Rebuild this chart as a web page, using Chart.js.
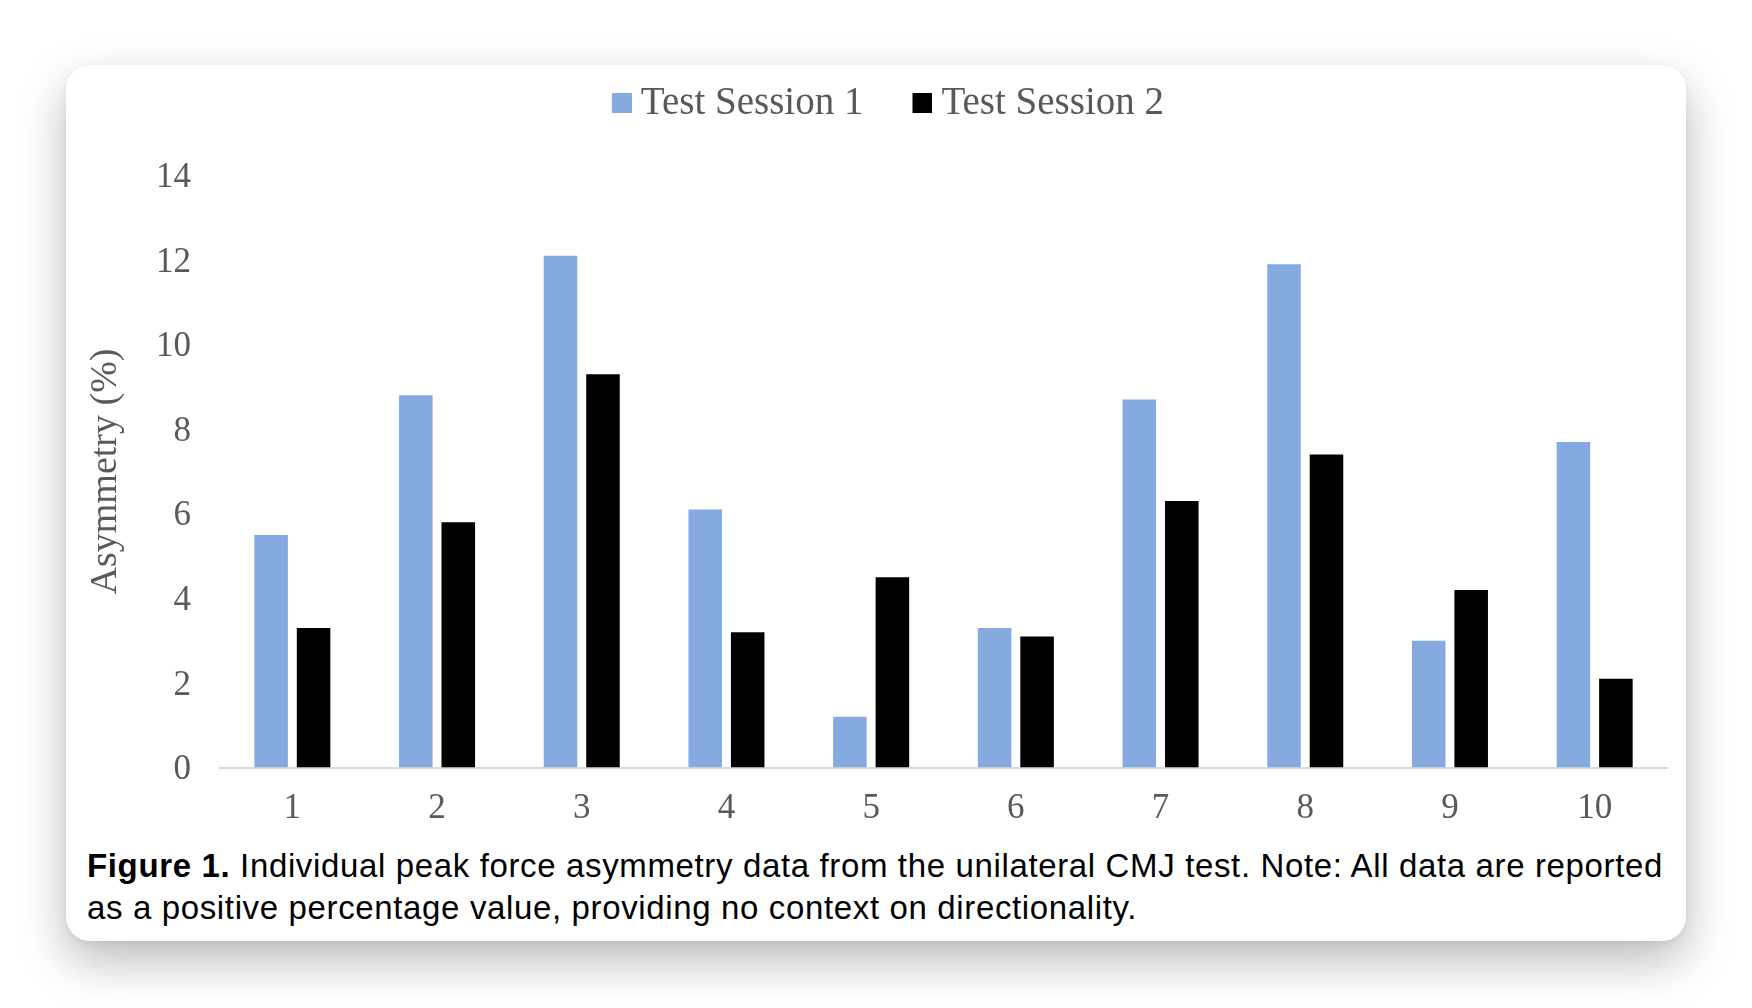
<!DOCTYPE html>
<html>
<head>
<meta charset="utf-8">
<script src="https://cdn.jsdelivr.net/npm/chart.js@4"></script>
<style>
  html, body { margin: 0; padding: 0; background: #ffffff; width: 1752px; height: 1008px; overflow: hidden; }
  #card {
    position: absolute; left: 66px; top: 65px; width: 1620px; height: 876px;
    background: #ffffff; border-radius: 24px;
    box-shadow: 0 20px 48px rgba(0,0,0,0.27), 0 2px 6px rgba(0,0,0,0.06);
  }
  #chart { position: absolute; left: 0; top: 0; }
  #cap {
    position: absolute; left: 21px; top: 780px;
    font-family: "Liberation Sans", Arial, sans-serif; font-size: 33px; line-height: 42px;
    color: #000; white-space: nowrap;
  }
  #cap b { font-weight: bold; }
</style>
</head>
<body>
<div id="card">
  <canvas id="chart" width="1620" height="780"></canvas>
  <div id="cap"><span id="l1"><b>Figure 1.</b> Individual peak force asymmetry data from the unilateral CMJ test. Note: All data are reported</span><br><span id="l2">as a positive percentage value, providing no context on directionality.</span></div>
</div>
<script>
// ---- data ----
const categories = ['1','2','3','4','5','6','7','8','9','10'];
const session1 = [5.5, 8.8, 12.1, 6.1, 1.2, 3.3, 8.7, 11.9, 3.0, 7.7];
const session2 = [3.3, 5.8, 9.3, 3.2, 4.5, 3.1, 6.3, 7.4, 4.2, 2.1];
const seriesNames = ['Test Session 1', 'Test Session 2'];
const yTicks = [0, 2, 4, 6, 8, 10, 12, 14];
const yTitle = 'Asymmetry (%)';

const colors = ['#84aadf', '#000000'];
const textGray = '#595959';

function swatch(color) {
  const c = document.createElement('canvas');
  c.width = 64; c.height = 20;
  const g = c.getContext('2d');
  g.fillStyle = color;
  g.fillRect(44, 0, 20, 20);
  return c;
}
const swatches = colors.map(swatch);

Chart.defaults.font.family = '"Liberation Serif", "Times New Roman", serif';
Chart.defaults.color = textGray;

new Chart(document.getElementById('chart'), {
  type: 'bar',
  data: {
    labels: categories,
    datasets: [
      { label: seriesNames[0], data: session1, backgroundColor: colors[0], borderWidth: 0,
        categoryPercentage: 0.587, barPercentage: 0.79 },
      { label: seriesNames[1], data: session2, backgroundColor: colors[1], borderWidth: 0,
        categoryPercentage: 0.587, barPercentage: 0.79 }
    ]
  },
  options: {
    responsive: false,
    animation: false,
    devicePixelRatio: 1,
    layout: { padding: { left: 9.4, right: 19, top: 3.4, bottom: 0 } },
    plugins: {
      tooltip: { enabled: false },
      legend: {
        position: 'top',
        labels: {
          font: { size: 39 },
          color: textGray,
          usePointStyle: true,
          pointStyleWidth: 43,
          boxHeight: 20,
          padding: 15.5,
          generateLabels: function(chart) {
            const items = Chart.defaults.plugins.legend.labels.generateLabels(chart);
            items.forEach((it, i) => { it.pointStyle = swatches[i]; });
            return items;
          }
        }
      }
    },
    scales: {
      x: {
        grid: { display: true, color: 'rgba(0,0,0,0)', drawTicks: false },
        border: { display: true, color: '#d9d9d9', width: 2 },
        ticks: { font: { size: 35 }, color: textGray, padding: 20.5 },
        afterFit: (s) => { s.height = 77.4; }
      },
      gap: {
        type: 'category',
        position: 'top',
        display: true,
        grid: { display: false, drawTicks: false },
        border: { display: false },
        ticks: { display: false },
        afterFit: (s) => { s.height = 42.5; }
      },
      y: {
        min: 0, max: 14,
        afterBuildTicks: (s) => { s.ticks = yTicks.map(v => ({ value: v })); },
        grid: { display: false, drawTicks: false },
        border: { display: false },
        ticks: { font: { size: 35 }, color: textGray, padding: 29, labelOffset: 2.5 },
        title: { display: true, text: yTitle, font: { size: 38, lineHeight: 1.2 }, color: textGray,
                 padding: { top: 7.8, bottom: 0 } },
        afterFit: (s) => { s.width = 144.6; }
      }
    }
  }
});

// fit caption width to reference
(function() {
  const l1 = document.getElementById('l1');
  const cap = document.getElementById('cap');
  const target = 1576;
  const w = l1.getBoundingClientRect().width;
  const n = l1.textContent.length;
  const ls = (target - w) / n;
  cap.style.letterSpacing = ls + 'px';
})();
</script>
</body>
</html>
